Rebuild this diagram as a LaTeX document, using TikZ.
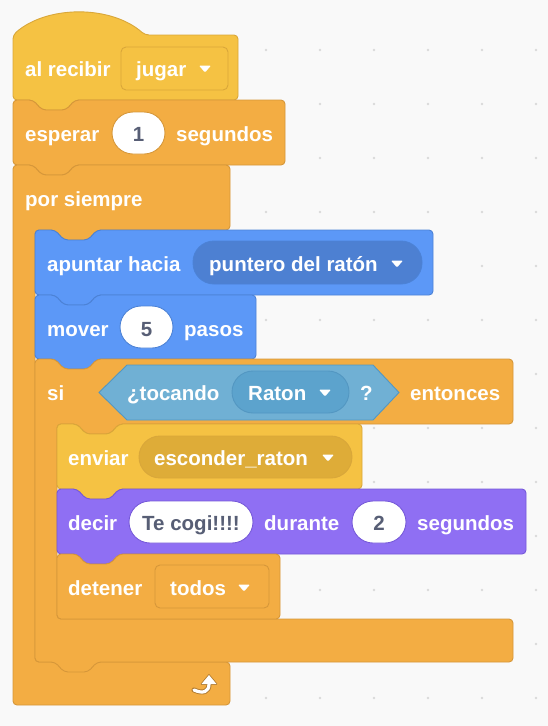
\documentclass[tikz,border=0pt]{standalone}
\usepackage{fontspec}
\newfontfamily\scratchfont{Liberation Sans Bold}
\usetikzlibrary{arrows.meta}
\definecolor{canvas}{HTML}{F9F9F9}
\definecolor{griddot}{HTML}{D9D9D9}
\definecolor{evfill}{HTML}{F5C243}
\definecolor{evline}{HTML}{D9A73A}
\definecolor{evdark}{HTML}{DEAC38}
\definecolor{ctfill}{HTML}{F3AD43}
\definecolor{ctline}{HTML}{D6973A}
\definecolor{mofill}{HTML}{5C98F7}
\definecolor{moline}{HTML}{4C82D6}
\definecolor{modark}{HTML}{4D80D2}
\definecolor{lkfill}{HTML}{8F6FF3}
\definecolor{lkline}{HTML}{7659D9}
\definecolor{sefill}{HTML}{70B0D4}
\definecolor{seline}{HTML}{5397C2}
\definecolor{sedark}{HTML}{5CA3CD}
\definecolor{intext}{HTML}{575E75}
\definecolor{arrowedge}{HTML}{B07A2E}
\tikzset{x=1pt, y=-1pt, % one unit is one pixel, y runs down
blockline/.style={line width=0.9pt, rounded corners=4pt},
events/.style={blockline, fill=evfill, draw=evline},
control/.style={blockline, fill=ctfill, draw=ctline},
motion/.style={blockline, fill=mofill, draw=moline},
looks/.style={blockline, fill=lkfill, draw=lkline},
notch/.style={insert path={-- ++(9,10) -- ++(24,0) -- ++(9,-10)}}, % dent on top of a block
tab/.style={insert path={-- ++(-9,10) -- ++(-24,0) -- ++(-9,-10)}}, % bump under a block
oval/.style={line width=0.9pt, rounded corners=21pt, fill=white},
menubox/.style={line width=0.9pt, rounded corners=5pt},
lbl/.style={anchor=west, inner sep=0pt, text height=15pt, text depth=0pt,
  text=white, font=\scratchfont\fontsize{20.5}{20.5}\selectfont},
inlbl/.style={lbl, anchor=center, text=intext}}
\newcommand\menuarrow[2]{\fill[white, rounded corners=1pt] (#1-6,#2-3.5) -- (#1+6,#2-3.5) -- (#1,#2+3.5) -- cycle;}

\begin{document}
\begin{tikzpicture}
    \fill[canvas] (0,0) rectangle (548,726);
    \useasboundingbox (0,0) rectangle (548,726);
    \foreach \i in {0,...,9}
      \foreach \j in {0,...,12}
        \fill[griddot] (50+54*\i,50+54*\j) circle (1.3);

    % stack
    \draw[events] (13,67) -- (13,35) .. controls (47,5) and (111,5) .. (145,35) -- (238,35) -- (238,100) -- (75,100) [tab] -- (13,100) -- cycle;
    \draw[control] (13,132) -- (13,100) -- (33,100) [notch] -- (285,100) -- (285,165) -- (75,165) [tab] -- (13,165) -- cycle;
    \draw[control] (13,400) -- (13,165) -- (33,165) [notch] -- (230,165) -- (230,230) -- (97,230) [tab] -- (35,230) -- (35,662) -- (230,662) -- (230,705) -- (13,705) -- cycle;
    \draw[motion] (35,262) -- (35,230) -- (55,230) [notch] -- (433,230) -- (433,295) -- (97,295) [tab] -- (35,295) -- cycle;
    \draw[motion] (35,327) -- (35,295) -- (55,295) [notch] -- (256,295) -- (256,359) -- (97,359) [tab] -- (35,359) -- cycle;
    \draw[control] (35,390) -- (35,359) -- (55,359) [notch] -- (513,359) -- (513,424) -- (119,424) [tab] -- (57,424) -- (57,619) -- (513,619) -- (513,662) -- (97,662) [tab] -- (35,662) -- cycle;
    \draw[events] (57,456) -- (57,424) -- (77,424) [notch] -- (362,424) -- (362,489) -- (119,489) [tab] -- (57,489) -- cycle;
    \draw[looks] (57,521) -- (57,489) -- (77,489) [notch] -- (526,489) -- (526,554) -- (119,554) [tab] -- (57,554) -- cycle;
    \draw[control] (57,586) -- (57,554) -- (77,554) [notch] -- (280,554) -- (280,619) -- (57,619) -- cycle;

    % inputs
    \draw[menubox, fill=evfill, draw=evline] (121,47) rectangle (228,90);
    \draw[oval, draw=ctline] (112,112) rectangle (165,154);
    \draw[oval, fill=modark, draw=moline] (193,241) rectangle (422,284);
    \draw[oval, draw=moline] (120,306) rectangle (173,348);
    \draw[line width=0.9pt, fill=sefill, draw=seline] (99,392.5) -- (127,365) -- (373,365) -- (399,392.5) -- (373,420) -- (127,420) -- cycle;
    \draw[oval, fill=sedark, draw=seline] (232,371) rectangle (349,413);
    \draw[oval, fill=evdark, draw=evline] (139,436) rectangle (352,478);
    \draw[oval, draw=lkline] (129,501) rectangle (253,543);
    \draw[oval, draw=lkline] (352,501) rectangle (406,543);
    \draw[menubox, fill=ctfill, draw=ctline] (155,565) rectangle (269,608);

    % texts
    \node[lbl] (recibir) at (25,68.5) {al recibir};
    \node[lbl] (jugar) at (136,68.5) {jugar};
    \menuarrow{205}{69}
    \node[lbl] (esperar) at (25,133.5) {esperar};
    \node[inlbl] (uno) at (138.5,133.5) {1};
    \node[lbl] (seg) at (176,133.5) {segundos};
    \node[lbl] (siempre) at (25,198.5) {por siempre};
    \node[lbl] (apuntar) at (47,263.5) {apuntar hacia};
    \node[lbl] (puntero) at (209,263.5) {puntero del ratón};
    \menuarrow{397}{264}
    \node[lbl] (mover) at (47,328.5) {mover};
    \node[inlbl] (cinco) at (146.5,328.5) {5};
    \node[lbl] (pasos) at (184,328.5) {pasos};
    \node[lbl] (si) at (47,392.5) {si};
    \node[lbl] (tocando) at (127,392.5) {¿tocando};
    \node[lbl] (raton) at (248,392.5) {Raton};
    \menuarrow{325}{393}
    \node[lbl] (pregunta) at (360,392.5) {?};
    \node[lbl] (entonces) at (410,392.5) {entonces};
    \node[lbl] (enviar) at (68,457.5) {enviar};
    \node[lbl] (esconder) at (154,457.5) {esconder\_raton};
    \menuarrow{328}{458}
    \node[lbl] (decir) at (68,522.5) {decir};
    \node[inlbl] (frase) at (191,522.5) {Te cogi!!!!};
    \node[lbl] (durante) at (264,522.5) {durante};
    \node[inlbl] (dos) at (379,522.5) {2};
    \node[lbl] (segdos) at (417,522.5) {segundos};
    \node[lbl] (detener) at (68,587.5) {detener};
    \node[lbl] (todos) at (170,587.5) {todos};
    \menuarrow{244}{588}

    % loop arrow
    \draw[arrowedge, line width=5pt, line cap=round] (194,690) .. controls (203,694) and (209,692) .. (209,684);
    \filldraw[arrowedge, line width=1.6pt, line join=round] (201.5,684) -- (216.5,684) -- (209,675) -- cycle;
    \draw[white, line width=3.2pt, line cap=round] (194,690) .. controls (203,694) and (209,692) .. (209,684);
    \fill[white] (201.5,684) -- (216.5,684) -- (209,675) -- cycle;
\end{tikzpicture}
\end{document}
